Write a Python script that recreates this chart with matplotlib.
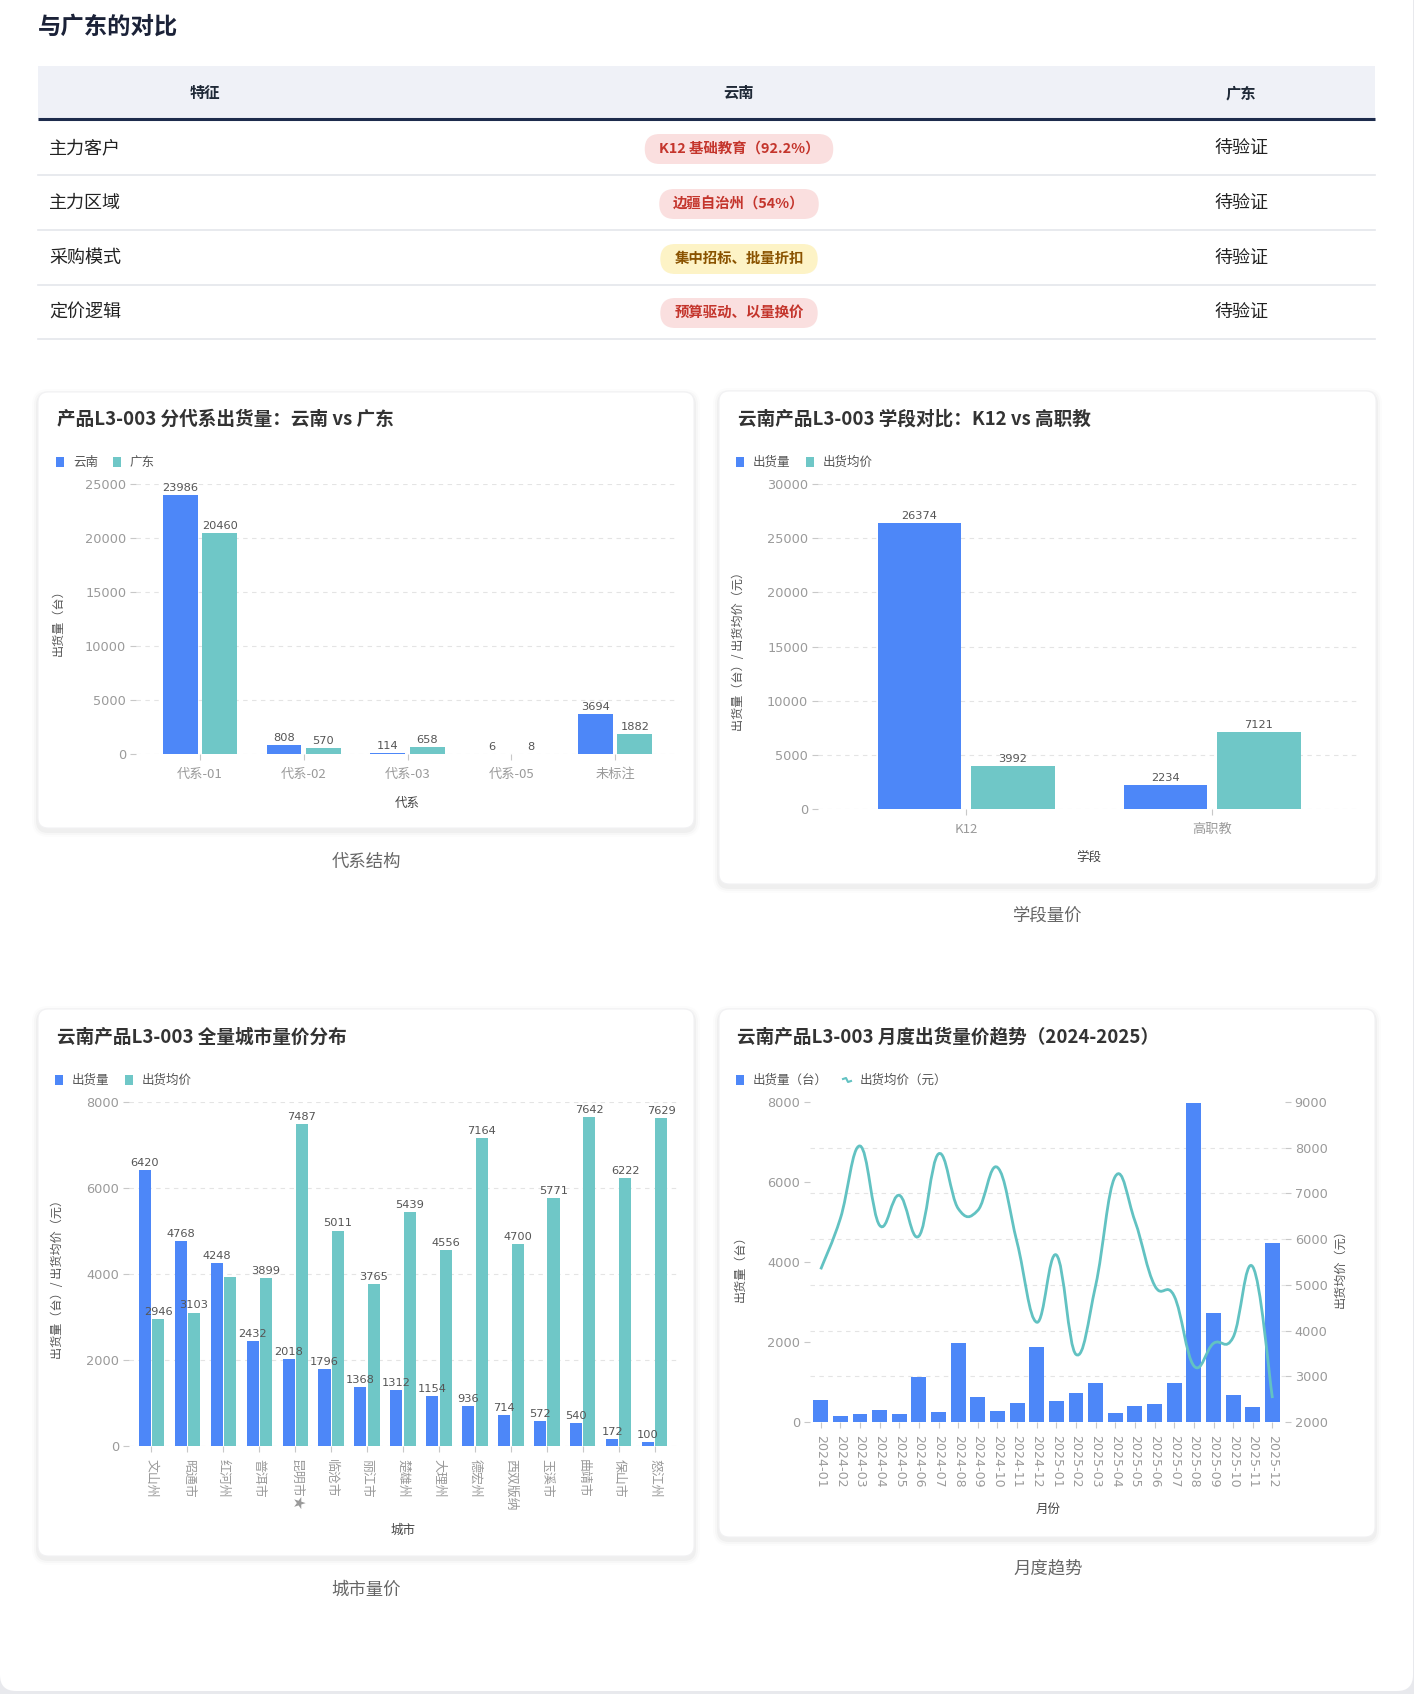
import numpy as np
import matplotlib
matplotlib.use("Agg")
import matplotlib.pyplot as plt
from matplotlib.patches import FancyBboxPatch, Rectangle, PathPatch
from matplotlib.path import Path

plt.rcParams["font.family"] = ["DejaVu Sans", "Noto Sans CJK SC"]
CJK = ["Noto Sans CJK SC", "DejaVu Sans"]

W, H = 1414, 1694
BLUE = "#4d87f8"
TEAL = "#6fc7c7"
LINE = "#62c2c2"

# ---- data ----
compare_features = ["主力客户", "主力区域", "采购模式", "定价逻辑"]
compare_yunnan = ["K12 基础教育（92.2%）", "边疆自治州（54%）", "集中招标、批量折扣", "预算驱动、以量换价"]
compare_guangdong = ["待验证", "待验证", "待验证", "待验证"]

gen_labels = ["代系-01", "代系-02", "代系-03", "代系-05", "未标注"]
gen_yunnan = [23986, 808, 114, 6, 3694]
gen_guangdong = [20460, 570, 658, 8, 1882]

stage_labels = ["K12", "高职教"]
stage_volume = [26374, 2234]
stage_price = [3992, 7121]

city_labels = ["文山州", "昭通市", "红河州", "普洱市", "昆明市★", "临沧市", "丽江市", "楚雄州",
               "大理州", "德宏州", "西双版纳", "玉溪市", "曲靖市", "保山市", "怒江州"]
city_volume = [6420, 4768, 4248, 2432, 2018, 1796, 1368, 1312, 1154, 936, 714, 572, 540, 172, 100]
city_price = [2946, 3103, 3925, 3899, 7487, 5011, 3765, 5439, 4556, 7164, 4700, 5771, 7642, 6222, 7629]

months = ["2024-01", "2024-02", "2024-03", "2024-04", "2024-05", "2024-06", "2024-07", "2024-08",
          "2024-09", "2024-10", "2024-11", "2024-12", "2025-01", "2025-02", "2025-03", "2025-04",
          "2025-05", "2025-06", "2025-07", "2025-08", "2025-09", "2025-10", "2025-11", "2025-12"]
month_volume = [554, 152, 197, 304, 190, 1135, 241, 1984, 617, 268, 483, 1868,
                518, 715, 965, 223, 393, 456, 983, 7964, 2726, 679, 384, 4469]
month_price = [5340, 6450, 8038, 6302, 6959, 6067, 7866, 6669, 6630, 7569, 5926, 4182,
               5653, 3478, 4988, 7373, 6396, 4988, 4753, 3228, 3721, 3854, 5394, 2524]

# ---- figure / page ----
fig = plt.figure(figsize=(W / 100, H / 100), dpi=100)
fig.patch.set_facecolor("#e8e9ed")
bg = fig.add_axes([0, 0, 1, 1])
bg.set_xlim(0, W)
bg.set_ylim(H, 0)
bg.axis("off")
renderer = fig.canvas.get_renderer()

bg.add_patch(FancyBboxPatch((0, -30), W - 1, H - 3 + 30, boxstyle="round,pad=0,rounding_size=16",
                            fc="white", ec="none"))

# ---- comparison table ----
bg.text(38, 27, "与广东的对比", fontsize=16.8, fontweight="bold", color="#1b2238",
        family=CJK, va="center", ha="left")
bg.add_patch(Rectangle((38, 66), 1337, 53, fc="#eff1f7", ec="none"))
bg.plot([38, 1375], [119, 119], color="#1d2b4c", lw=2.2, solid_capstyle="butt")
col_x = [205, 739, 1241]
for x, name in zip(col_x, ["特征", "云南", "广东"]):
    bg.text(x, 93, name, fontsize=11, fontweight="bold", color="#1f2937", family=CJK,
            ha="center", va="center")

row_y = [148, 203, 258, 312]
badge_tone = [("#fadfdf", "#c4352c"), ("#fadfdf", "#c4352c"), ("#fdf3c6", "#8a5300"), ("#fadfdf", "#c4352c")]
for i, y in enumerate(row_y):
    bg.text(49, y, compare_features[i], fontsize=13, color="#222", family=CJK, ha="left", va="center")
    bg.text(col_x[2], y, compare_guangdong[i], fontsize=13, color="#222", family=CJK,
            ha="center", va="center")
    face, ink = badge_tone[i]
    t = bg.text(col_x[1], y + 1, compare_yunnan[i], fontsize=10.4, fontweight="bold", color=ink,
                family=CJK, ha="center", va="center", zorder=3)
    bw = t.get_window_extent(renderer).width + 28
    bg.add_patch(FancyBboxPatch((col_x[1] - bw / 2, y + 1 - 15), bw, 30,
                                boxstyle="round,pad=0,rounding_size=15", fc=face, ec="none", zorder=2))
    bg.plot([38, 1375], [y + 27, y + 27], color="#e4e6eb", lw=1.2)


# ---- helpers ----
def card(l, t, r, b):
    for k, a in [(6, 0.012), (4, 0.02), (2, 0.03)]:
        bg.add_patch(FancyBboxPatch((l - k, t - k + 3), r - l + 2 * k, b - t + 2 * k,
                                    boxstyle=f"round,pad=0,rounding_size={10 + k}",
                                    fc="black", alpha=a, ec="none"))
    bg.add_patch(FancyBboxPatch((l, t), r - l, b - t, boxstyle="round,pad=0,rounding_size=10",
                                fc="white", ec="#f1f1f3", lw=0.8))


def panel_axes(l, t, r, b):
    ax = fig.add_axes([l / W, 1 - b / H, (r - l) / W, (b - t) / H])
    ax.set_facecolor("none")
    for s in ax.spines.values():
        s.set_visible(False)
    ax.tick_params(axis="both", length=4, width=0.8, color="#c8c8c8", labelsize=9.3,
                   labelcolor="#9a9a9a", pad=3)
    return ax


def y_axis(ax, ymax, step, grid=True, ymin=0):
    ax.set_ylim(ymin, ymax)
    ax.set_yticks(np.arange(ymin, ymax + 1, step))
    if grid:
        ax.grid(axis="y", color="#e4e4e4", linestyle=(0, (4, 4)), linewidth=0.8)
    ax.set_axisbelow(True)


def legend(x, y, items):
    for kind, color, label in items:
        if kind == "bar":
            bg.add_patch(Rectangle((x, y - 5), 8, 10, fc=color, ec="none"))
        else:
            bg.plot([x, x + 3, x + 5, x + 8], [y - 1, y - 2, y + 2, y + 1], color=color, lw=1.5)
        t = bg.text(x + 17, y, label, fontsize=9, color="#555", family=CJK, ha="left", va="center")
        x = x + 17 + t.get_window_extent(renderer).width + 15


placed = []


def value_labels(ax, xs, vals, size=8.2):
    for x, v in zip(xs, vals):
        t = ax.annotate(f"{v}", (x, v), xytext=(0, 1.5), textcoords="offset points",
                        ha="center", va="bottom", fontsize=size, color="#555")
        bb = t.get_window_extent(renderer).padded(2)
        if any(bb.overlaps(p) for p in placed):
            t.remove()
        else:
            placed.append(bb)


def card_title(x, y, text):
    bg.text(x, y, text, fontsize=13.4, fontweight="bold", color="#333", family=CJK,
            ha="left", va="center")


def axis_name(x, y, text, rot=0):
    bg.text(x, y, text, fontsize=9 if rot == 0 else 8.7, color="#444" if rot == 0 else "#555",
            family=CJK, ha="center", va="center", rotation=rot)


def caption(x, y, text):
    bg.text(x, y, text, fontsize=12.5, color="#666", family=CJK, ha="center", va="center")


# ---- chart 1: generations ----
card(38, 392, 694, 828)
card_title(57, 419, "产品L3-003 分代系出货量：云南 vs 广东")
legend(56, 462, [("bar", BLUE, "云南"), ("bar", TEAL, "广东")])
ax1 = panel_axes(136, 484, 678, 754)
x = np.arange(len(gen_labels))
ax1.bar(x - 0.19, gen_yunnan, 0.335, color=BLUE, zorder=2)
ax1.bar(x + 0.19, gen_guangdong, 0.335, color=TEAL, zorder=2)
ax1.set_xlim(-0.617, len(gen_labels) - 0.393)
y_axis(ax1, 25000, 5000)
ax1.set_xticks(x)
ax1.set_xticklabels(gen_labels, family=CJK, fontsize=9.5)
ax1.tick_params(axis="x", pad=6)
value_labels(ax1, x - 0.19, gen_yunnan)
value_labels(ax1, x + 0.19, gen_guangdong)
axis_name(407, 803, "代系")
axis_name(58, 620, "出货量（台）", rot=90)
caption(366, 862, "代系结构")

# ---- chart 2: school stage ----
card(719, 391, 1376, 884)
card_title(738, 419, "云南产品L3-003 学段对比：K12 vs 高职教")
legend(736, 462, [("bar", BLUE, "出货量"), ("bar", TEAL, "出货均价")])
ax2 = panel_axes(818, 484, 1358, 809)
x = np.arange(len(stage_labels))
ax2.bar(x - 0.19, stage_volume, 0.34, color=BLUE, zorder=2)
ax2.bar(x + 0.19, stage_price, 0.34, color=TEAL, zorder=2)
ax2.set_xlim(-0.602, len(stage_labels) - 0.407)
y_axis(ax2, 30000, 5000)
ax2.set_xticks(x)
ax2.set_xticklabels(stage_labels, family=CJK, fontsize=9.5)
ax2.tick_params(axis="x", pad=6)
value_labels(ax2, x - 0.19, stage_volume)
value_labels(ax2, x + 0.19, stage_price)
axis_name(1089, 857, "学段")
axis_name(738, 648, "出货量（台）/ 出货均价（元）", rot=90)
caption(1048, 916, "学段量价")

# ---- chart 3: cities ----
card(38, 1009, 694, 1556)
card_title(57, 1037, "云南产品L3-003 全量城市量价分布")
legend(55, 1080, [("bar", BLUE, "出货量"), ("bar", TEAL, "出货均价")])
ax3 = panel_axes(129, 1102, 677, 1446)
x = np.arange(len(city_labels))
ax3.bar(x - 0.185, city_volume, 0.335, color=BLUE, zorder=2)
ax3.bar(x + 0.185, city_price, 0.335, color=TEAL, zorder=2)
ax3.set_xlim(-0.623, len(city_labels) - 0.38)
y_axis(ax3, 8000, 2000)
ax3.set_xticks(x)
ax3.set_xticklabels(city_labels, family=CJK, fontsize=9.3, rotation=-90,
                    ha="left", va="center", rotation_mode="anchor")
ax3.tick_params(axis="x", pad=5)
value_labels(ax3, x - 0.185, city_volume)
value_labels(ax3, x + 0.185, city_price)
axis_name(403, 1530, "城市")
axis_name(58, 1276, "出货量（台）/ 出货均价（元）", rot=90)
caption(366, 1590, "城市量价")

# ---- chart 4: monthly trend ----
card(719, 1009, 1375, 1537)
card_title(737, 1037, "云南产品L3-003 月度出货量价趋势（2024-2025）")
legend(736, 1080, [("bar", BLUE, "出货量（台）"), ("line", LINE, "出货均价（元）")])
ax4 = panel_axes(810, 1102, 1285, 1422)
x = np.arange(len(months))
ax4.bar(x, month_volume, 0.76, color=BLUE, zorder=2)
ax4.set_xlim(-0.545, len(months) - 0.36)
y_axis(ax4, 8000, 2000, grid=False)
ax4.set_xticks(x)
ax4.set_xticklabels(months, fontsize=9.1, rotation=-90, ha="left", va="center",
                    rotation_mode="anchor")
ax4.tick_params(axis="x", pad=5)

ax4r = ax4.twinx()
for s in ax4r.spines.values():
    s.set_visible(False)
y_axis(ax4r, 9000, 1000, grid=False, ymin=2000)
ax4r.tick_params(axis="y", length=4, width=0.8, color="#c8c8c8", labelsize=9.3,
                 labelcolor="#9a9a9a", pad=3)
# grid of the price axis, drawn behind the bars on the volume axis
r0, r1 = ax4r.get_ylim()
l0, l1 = ax4.get_ylim()
ax4.set_yticks([l0 + (v - r0) / (r1 - r0) * (l1 - l0) for v in ax4r.get_yticks()], minor=True)
ax4.tick_params(axis="y", which="minor", length=0)
ax4.grid(axis="y", which="minor", color="#e4e4e4", linestyle=(0, (4, 4)), linewidth=0.8)

# smooth line through the monthly prices (cubic bezier segments)
k = 0.2
px, py = x.astype(float), np.array(month_price, dtype=float)
verts, codes = [(px[0], py[0])], [Path.MOVETO]
n = len(px)
for i in range(n - 1):
    a = max(i - 1, 0)
    d = min(i + 2, n - 1)
    verts += [(px[i] + (px[i + 1] - px[a]) * k, py[i] + (py[i + 1] - py[a]) * k),
              (px[i + 1] - (px[d] - px[i]) * k, py[i + 1] - (py[d] - py[i]) * k),
              (px[i + 1], py[i + 1])]
    codes += [Path.CURVE4] * 3
ax4r.add_patch(PathPatch(Path(verts, codes), fill=False, edgecolor=LINE, lw=2, zorder=3))

axis_name(1048, 1509, "月份")
axis_name(740, 1266, "出货量（台）", rot=90)
axis_name(1340, 1266, "出货均价（元）", rot=90)
caption(1048, 1568, "月度趋势")

fig.savefig("out.png", dpi=100, facecolor=fig.get_facecolor())
